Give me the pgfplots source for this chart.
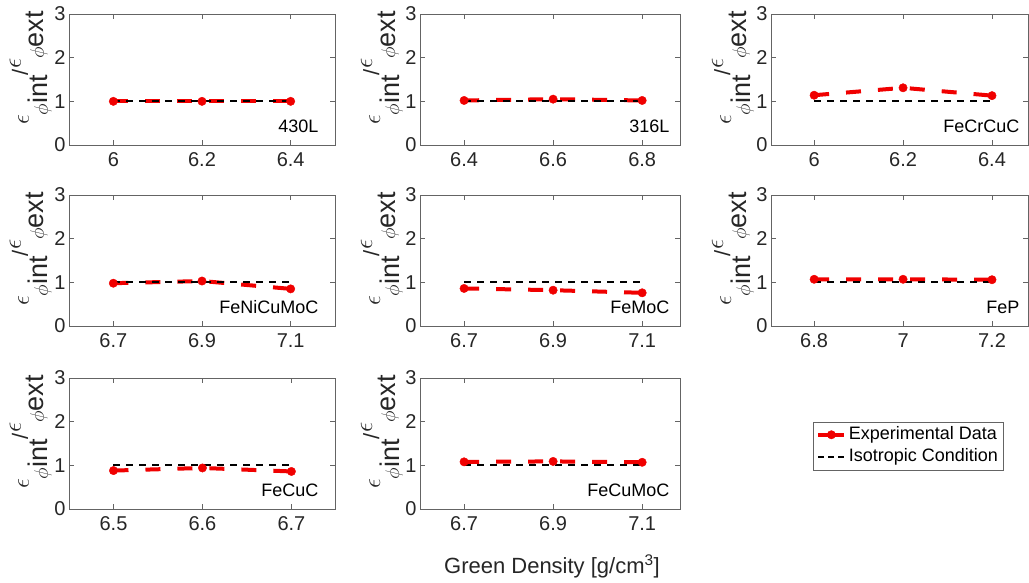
\documentclass[border=0pt]{standalone}
\usepackage{fontspec}
\setmainfont{Liberation Sans}
\usepackage{pgfplots}
\pgfplotsset{compat=1.18}
\usetikzlibrary{calc}

\definecolor{mred}{RGB}{240,0,0}
\definecolor{axgray}{RGB}{100,100,100}
\definecolor{txtgray}{RGB}{38,38,38}

\newcommand{\ylab}{%
{\fontsize{28}{28}\selectfont$\epsilon$}%
\raisebox{-19pt}{\fontsize{19}{19}\selectfont\scalebox{1.15}{$\phi$}\fontsize{27}{27}\selectfont int}%
\raisebox{1pt}{\fontsize{22}{22}\selectfont/}%
\raisebox{8pt}{\fontsize{20}{20}\selectfont\scalebox{1.25}{$\epsilon$}}%
\raisebox{-15pt}{\fontsize{19}{19}\selectfont\scalebox{1.15}{$\phi$}\fontsize{27}{27}\selectfont ext}}

\tikzset{plab/.style={anchor=base east, font=\fontsize{18}{18}\selectfont, text=black}}

\pgfplotsset{
  panel/.style={
    scale only axis, height=131pt, anchor=north west,
    ymin=0, ymax=3, ytick={0,1,2,3},
    enlargelimits=false,
    axis line style={draw=axgray, line width=0.8pt},
    tick style={draw=axgray, line width=0.8pt},
    major tick length=5pt,
    xtick pos=both, ytick pos=both,
    tick label style={font=\fontsize{20}{20}\selectfont, text=txtgray},
    /pgf/number format/assume math mode=true,
    xticklabel style={yshift=-4pt},
    ylabel={\ylab},
    ylabel style={at={($(axis description cs:0,0.5)+(-40pt,11.5pt)$)}, anchor=base, rotate=0, text=txtgray},
    legend image code/.code={\draw[mark repeat=2,mark phase=2,##1] plot coordinates {(0pt,0pt) (13pt,0pt) (26pt,0pt)};},
  },
  exp/.style={mred, line width=4pt, dash pattern=on 15pt off 17pt, mark=*, mark size=4.2pt, mark options={solid, fill=mred, draw=mred, line width=0.4pt}},
  iso/.style={black, line width=2pt, dash pattern=on 7pt off 6pt},
}

\begin{document}
\begin{tikzpicture}
\useasboundingbox (0pt,0pt) rectangle (1029pt,-582pt);

% Row 1
\begin{axis}[panel, at={(69pt,-14pt)}, width=266pt, xmin=5.9, xmax=6.5, xtick={6,6.2,6.4}]
\addplot[exp] coordinates {(6.0,1.00) (6.2,1.00) (6.4,1.00)};
\addplot[iso] coordinates {(6.0,1) (6.2,1) (6.4,1)};
\node[plab] at (rel axis cs:1,0) [xshift=-13pt, yshift=13pt] {430L};
\end{axis}

\begin{axis}[panel, at={(420pt,-14pt)}, width=260pt, xmin=6.301, xmax=6.885, xtick={6.4,6.6,6.8}]
\addplot[exp] coordinates {(6.4,1.02) (6.6,1.05) (6.8,1.02)};
\addplot[iso] coordinates {(6.4,1) (6.6,1) (6.8,1)};
\node[plab] at (rel axis cs:1,0) [xshift=-7pt, yshift=13pt] {316L};
\end{axis}

\begin{axis}[panel, at={(771pt,-14pt)}, width=257pt, xmin=5.903, xmax=6.481, xtick={6,6.2,6.4}]
\addplot[exp] coordinates {(6.0,1.14) (6.2,1.31) (6.4,1.13)};
\addplot[iso] coordinates {(6.0,1) (6.2,1) (6.4,1)};
\node[plab] at (rel axis cs:1,0) [xshift=-5pt, yshift=13pt] {FeCrCuC};
\end{axis}

% Row 2
\begin{axis}[panel, at={(69pt,-195pt)}, width=266pt, xmin=6.6, xmax=7.2, xtick={6.7,6.9,7.1}]
\addplot[exp] coordinates {(6.7,0.98) (6.9,1.03) (7.1,0.85)};
\addplot[iso] coordinates {(6.7,1) (6.9,1) (7.1,1)};
\node[plab] at (rel axis cs:1,0) [xshift=-13pt, yshift=13pt] {FeNiCuMoC};
\end{axis}

\begin{axis}[panel, at={(420pt,-195pt)}, width=260pt, xmin=6.601, xmax=7.185, xtick={6.7,6.9,7.1}]
\addplot[exp] coordinates {(6.7,0.86) (6.9,0.82) (7.1,0.76)};
\addplot[iso] coordinates {(6.7,1) (6.9,1) (7.1,1)};
\node[plab] at (rel axis cs:1,0) [xshift=-7pt, yshift=13pt] {FeMoC};
\end{axis}

\begin{axis}[panel, at={(771pt,-195pt)}, width=257pt, xmin=6.703, xmax=7.281, xtick={6.8,7,7.2}]
\addplot[exp] coordinates {(6.8,1.07) (7.0,1.07) (7.2,1.06)};
\addplot[iso] coordinates {(6.8,1) (7.0,1) (7.2,1)};
\node[plab] at (rel axis cs:1,0) [xshift=-5pt, yshift=13pt] {FeP};
\end{axis}

% Row 3
\begin{axis}[panel, at={(69pt,-378pt)}, width=266pt, xmin=6.45, xmax=6.749, xtick={6.5,6.6,6.7}]
\addplot[exp] coordinates {(6.5,0.88) (6.6,0.94) (6.7,0.86)};
\addplot[iso] coordinates {(6.5,1) (6.6,1) (6.7,1)};
\node[plab] at (rel axis cs:1,0) [xshift=-13pt, yshift=13pt] {FeCuC};
\end{axis}

\begin{axis}[panel, at={(420pt,-378pt)}, width=260pt, xmin=6.601, xmax=7.185, xtick={6.7,6.9,7.1},
  xlabel={Green Density [g/cm\textsuperscript{3}]},
  xlabel style={at={($(axis description cs:0.5,0)+(2pt,-64pt)$)}, anchor=base, font=\fontsize{22}{22}\selectfont, text=txtgray},
  legend style={at={(axis description cs:1.5115,0.667)}, anchor=north west, draw=axgray, line width=0.8pt,
    font=\fontsize{18}{18}\selectfont, text=black, inner xsep=3pt, inner ysep=1.5pt,
    nodes={inner xsep=2.5pt, inner ysep=2pt, text height=13.5pt, text depth=5pt}},
  legend cell align=left]
\addplot[exp, legend image post style={solid}] coordinates {(6.7,1.08) (6.9,1.09) (7.1,1.07)};
\addlegendentry{Experimental Data}
\addplot[iso, legend image post style={dash pattern=on 6pt off 4pt}] coordinates {(6.7,1) (6.9,1) (7.1,1)};
\addlegendentry{Isotropic Condition}
\node[plab] at (rel axis cs:1,0) [xshift=-7pt, yshift=13pt] {FeCuMoC};
\end{axis}
\end{tikzpicture}
\end{document}
